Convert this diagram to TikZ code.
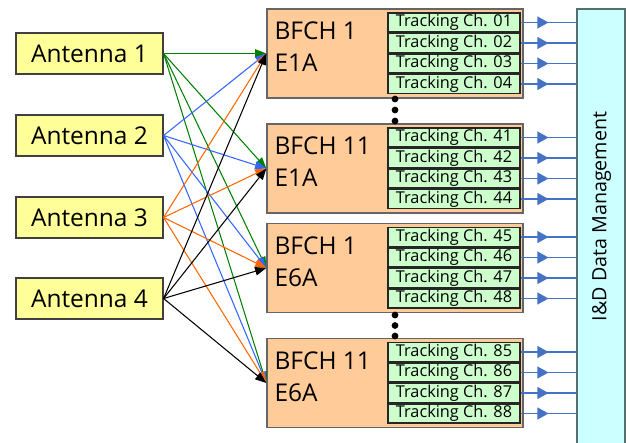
\documentclass[tikz,border=0pt]{standalone}
\usepackage{fontspec}
\setmainfont{Open Sans}
\usetikzlibrary{shapes, arrows.meta, positioning, decorations.markings}

\definecolor{antfill}{RGB}{255,255,153}
\definecolor{bffill}{RGB}{255,204,153}
\definecolor{chfill}{RGB}{204,255,204}
\definecolor{dmfill}{RGB}{204,255,255}
\definecolor{dmline}{RGB}{85,110,110}
\definecolor{outblue}{RGB}{68,114,196}
\definecolor{agreen}{RGB}{0,128,0}
\definecolor{ablue}{RGB}{51,102,255}
\definecolor{aorange}{RGB}{255,102,0}

\tikzset{
	antenna/.style={rectangle, draw=black!75, line width=0.8pt, fill=antfill, minimum width=3.675cm, minimum height=1.025cm, inner sep=0pt, font=\fontsize{17.4}{21}\selectfont},
	bfbox/.style={rectangle, draw=black!60, line width=0.9pt, fill=bffill, minimum width=6.4cm, minimum height=2.225cm},
	bflabel/.style={inner sep=0pt, align=left, font=\fontsize{17.4}{22.8}\selectfont},
	chbox/.style={rectangle, draw=black!85, line width=0.9pt, fill=chfill, minimum width=3.3cm, minimum height=0.475cm, inner sep=0pt, font=\fontsize{11.6}{13}\selectfont},
	dmbox/.style={rectangle, draw=dmline, line width=0.9pt, fill=dmfill, minimum width=1.2cm, minimum height=11.275cm},
	inarrow/.style={line width=0.75pt, -{Triangle[length=8pt, width=6pt]}},
	outarrow/.style={outblue, line width=1.2pt, decoration={markings, mark=at position 0.5 with {\arrow{Triangle[length=8pt, width=8.5pt]}}}, postaction={decorate}}
}

\begin{document}
\begin{tikzpicture}[x=0.025cm, y=-0.025cm]
	\useasboundingbox (0, 0) rectangle (626, 442);
	\def\ax{89.5}
	\def\bx{395}
	\def\cx{454}
	% antennas
	\node[antenna] (a1) at (\ax, 53.5) {Antenna 1};
	\node[antenna] (a2) at (\ax, 135.5) {Antenna 2};
	\node[antenna] (a3) at (\ax, 217.5) {Antenna 3};
	\node[antenna] (a4) at (\ax, 298.5) {Antenna 4};
	% beam former channels
	\node[bfbox] (b1) at (\bx, 53.5) {};
	\node[bfbox] (b2) at (\bx, 168.5) {};
	\node[bfbox] (b3) at (\bx, 268) {};
	\node[bfbox] (b4) at (\bx, 383) {};
	\node[bflabel, below right=0.33cm and 0.2cm of b1.north west] (l1) {BFCH 1\\E1A};
	\node[bflabel, below right=0.33cm and 0.2cm of b2.north west] (l2) {BFCH 11\\E1A};
	\node[bflabel, below right=0.33cm and 0.2cm of b3.north west] (l3) {BFCH 1\\E6A};
	\node[bflabel, below right=0.33cm and 0.2cm of b4.north west] (l4) {BFCH 11\\E6A};
	\foreach \y in {99, 110, 121, 315, 325.5, 336}
		\fill (\bx, \y) circle (2.4pt);
	% data management
	\node[dmbox] (dm) at (601, 234.5) {};
	\node[rotate=90, inner sep=0pt, font=\fontsize{14}{17}\selectfont] (dmt) at (601.5, 216.5) {I\&D Data Management};
	% tracking channels
	\foreach \by/\na/\nb/\nc/\nd in {53.5/01/02/03/04, 168.5/41/42/43/44, 268/45/46/47/48, 383/85/86/87/88}
		\foreach \k/\n in {0/\na, 1/\nb, 2/\nc, 3/\nd} {
			\node[chbox] (ch\n) at (\cx, \by-31+20.5*\k) {Tracking Ch. \n};
			\draw[outarrow] (ch\n.east) -- (ch\n.east -| dm.west);
		}
	% antenna to channel links
	\foreach \a/\c in {a1/agreen, a2/ablue, a3/aorange, a4/black}
		\foreach \b in {b1, b2, b3, b4}
			\draw[inarrow, \c] (\a.east) -- (\b.west);
\end{tikzpicture}
\end{document}
